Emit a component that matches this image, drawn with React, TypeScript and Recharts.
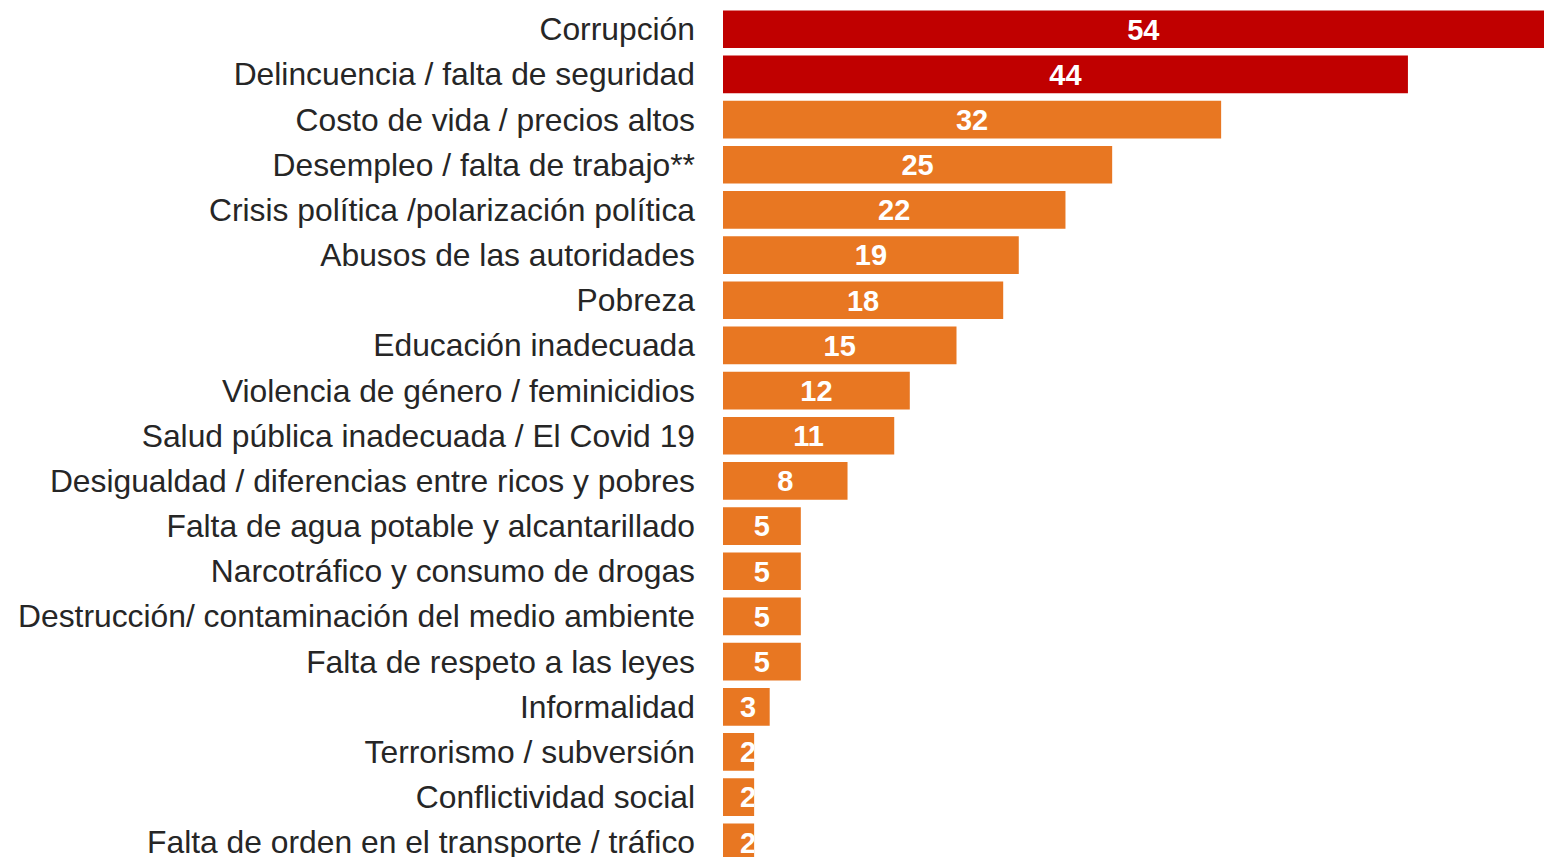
import React from 'react';
import { BarChart, Bar, XAxis, YAxis, Cell, LabelList } from 'recharts';

const categories: string[] = [
  'Corrupción',
  'Delincuencia / falta de seguridad',
  'Costo de vida / precios altos',
  'Desempleo / falta de trabajo**',
  'Crisis política /polarización política',
  'Abusos de las autoridades',
  'Pobreza',
  'Educación inadecuada',
  'Violencia de género / feminicidios',
  'Salud pública inadecuada / El Covid 19',
  'Desigualdad / diferencias entre ricos y pobres',
  'Falta de agua potable y alcantarillado',
  'Narcotráfico y consumo de drogas',
  'Destrucción/ contaminación del medio ambiente',
  'Falta de respeto a las leyes',
  'Informalidad',
  'Terrorismo / subversión',
  'Conflictividad social',
  'Falta de orden en el transporte / tráfico',
];

const values: number[] = [54, 44, 32, 25, 22, 19, 18, 15, 12, 11, 8, 5, 5, 5, 5, 3, 2, 2, 2];

const highlighted: boolean[] = [true, true, false, false, false, false, false, false, false, false, false, false, false, false, false, false, false, false, false];

const RED = '#C00000';
const ORANGE = '#E87722';
const FONT = '"Liberation Sans", Arial, sans-serif';

const data = categories.map((name, i) => ({ name, value: values[i] }));

const ValueLabel = (props: any) => {
  const { x, y, width, height, value, index } = props;
  const cx = Math.max(x + width / 2, x + 25);
  const id = `lblclip-${index}`;
  return (
    <g>
      <defs>
        <clipPath id={id}>
          <rect x={x} y={y} width={width} height={height} />
        </clipPath>
      </defs>
      <text
        x={cx}
        y={y + height / 2}
        dy="0.355em"
        textAnchor="middle"
        fill="#ffffff"
        fontWeight="bold"
        fontSize={29}
        fontFamily={FONT}
        clipPath={`url(#${id})`}
      >
        {value}
      </text>
    </g>
  );
};

export default function App() {
  return (
    <div
      style={{
        position: 'absolute',
        left: 0,
        top: 0,
        width: 1544,
        height: 857,
        overflow: 'hidden',
        background: '#ffffff',
      }}
    >
      <BarChart
        width={1657}
        height={870}
        data={data}
        layout="vertical"
        margin={{ top: 6.4, right: 0, bottom: 5.4, left: 0 }}
        barCategoryGap={0}
      >
        <XAxis type="number" hide domain={[0, 60]} />
        <YAxis
          type="category"
          dataKey="name"
          width={723}
          axisLine={false}
          tickLine={false}
          tickSize={0}
          tickMargin={28}
          interval={0}
          tick={{ fill: '#262626', fontSize: 31.8, fontFamily: FONT }}
        />
        <Bar dataKey="value" barSize={37.7} isAnimationActive={false}>
          {data.map((d, i) => (
            <Cell key={d.name} fill={highlighted[i] ? RED : ORANGE} />
          ))}
          <LabelList dataKey="value" content={ValueLabel} />
        </Bar>
      </BarChart>
    </div>
  );
}
